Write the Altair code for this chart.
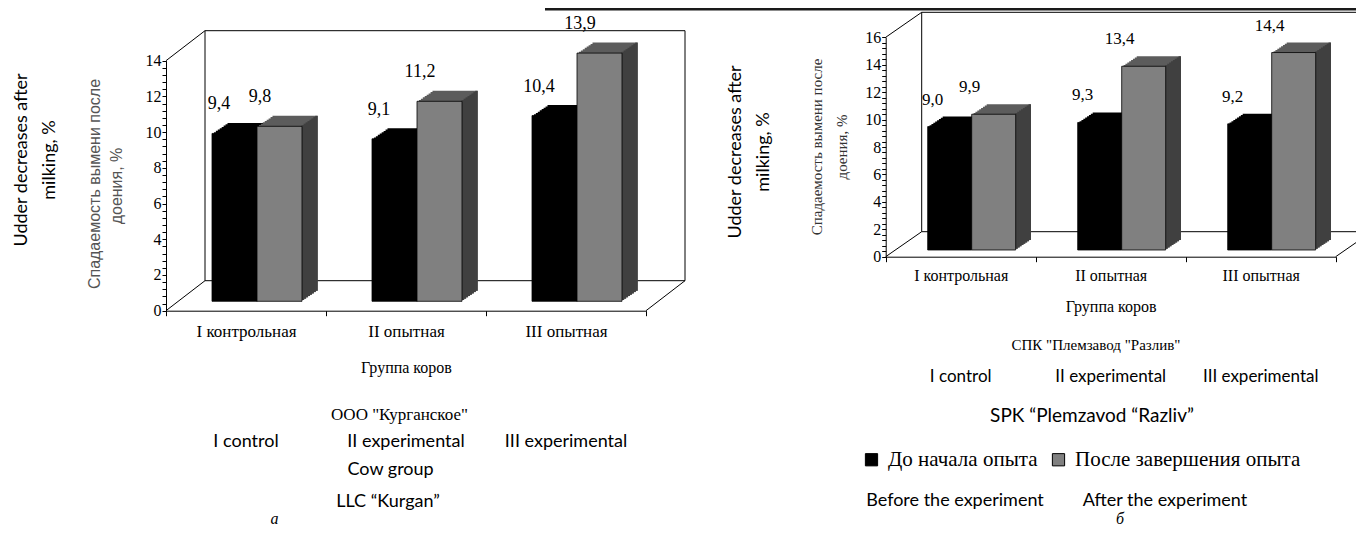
import altair as alt
import pandas as pd

# ---------------- data ----------------
groups = ["I контрольная", "II опытная", "III опытная"]
groups_en = ["I control", "II experimental", "III experimental"]
series = ["До начала опыта", "После завершения опыта"]
kurgan_before = [9.4, 9.1, 10.4]
kurgan_after = [9.8, 11.2, 13.9]
razliv_before = [9.0, 9.3, 9.2]
razliv_after = [9.9, 13.4, 14.4]
kurgan_ticks = [0, 2, 4, 6, 8, 10, 12, 14]
razliv_ticks = [0, 2, 4, 6, 8, 10, 12, 14, 16]

title_en = ["Udder decreases after", "milking, %"]
title_ru = ["Спадаемость вымени после", "доения, %"]
x_title_ru = "Группа коров"
farm_a_ru = 'ООО "Курганское"'
farm_a_en = "LLC \u201cKurgan\u201d"
cow_group_en = "Cow group"
farm_b_ru = 'СПК "Племзавод "Разлив"'
farm_b_en = "SPK \u201cPlemzavod \u201cRazliv\u201d"
legend_en = ["Before the experiment", "After the experiment"]
panel_letters = ["а", "б"]

W, H = 1348, 522
SERIF = "Liberation Serif"
SANS_EN = "Lato"

color_scale = alt.Scale(domain=series, range=["#000000", "#808080"])
legend = alt.Legend(title=None, orient="none", legendX=853, legendY=441,
                    direction="horizontal", symbolType="square", symbolSize=150,
                    symbolStrokeColor="black", symbolStrokeWidth=1,
                    labelFont=SERIF, labelFontSize=21, labelColor="black",
                    labelOffset=6, columnPadding=10, labelLimit=400)


def fmt(v):
    return f"{v:.1f}".replace(".", ",")


def one():
    return pd.DataFrame({"k": [0]})


def rule(x1, y1, x2, y2, width=1.0, color="black"):
    return alt.Chart(one()).mark_rule(color=color, strokeWidth=width).encode(
        x=alt.value(x1), y=alt.value(y1), x2=alt.value(x2), y2=alt.value(y2))


def text(s, x, y, size, font, angle=0, color="black", style="normal",
         baseline="middle"):
    return alt.Chart(pd.DataFrame({"t": [s]})).mark_text(
        font=font, fontSize=size, angle=angle, color=color, fontStyle=style,
        baseline=baseline, align="center").encode(
        x=alt.value(x), y=alt.value(y), text="t:N")


def panel(before, after, ticks, g):
    ymax = ticks[-1]
    df_b = pd.DataFrame({"group": groups, "series": series[0], "value": before,
                         "label": [fmt(v) for v in before]})
    df_a = pd.DataFrame({"group": groups, "series": series[1], "value": after,
                         "label": [fmt(v) for v in after]})
    df_en = pd.DataFrame({"group": groups, "en": groups_en})
    minor = [round(i * 0.4, 1) for i in range(int(round(ymax / 0.4)) + 1)]
    label_expr = ("indexof(" + str(ticks) +
                  ", datum.value) >= 0 ? format(datum.value, 'd') : ''")

    x = alt.X("group:N", sort=groups,
              scale=alt.Scale(domain=groups, range=[g["x0"], g["x1"]],
                              paddingInner=0, paddingOuter=0),
              axis=alt.Axis(orient="bottom", offset=g["y0"] - H, tickBand="extent",
                            labelAngle=0, labelFont=SERIF, labelFontSize=g["lab_fs"],
                            labelColor="black", labelPadding=g["lab_pad"],
                            tickSize=5, tickColor="black", domainColor="black",
                            title=x_title_ru, titleFont=SERIF,
                            titleFontSize=g["tit_fs"], titleFontWeight="normal",
                            titleColor="black", titlePadding=g["tit_pad"]))
    y = alt.Y("value:Q",
              scale=alt.Scale(domain=[0, ymax], range=[g["y0"], g["ytop"]],
                              nice=False, zero=True),
              axis=alt.Axis(orient="left", offset=-g["x0"], values=minor,
                            labelExpr=label_expr, labelOverlap=False,
                            labelFont=SERIF, labelFontSize=16, labelColor="black",
                            tickSize=4, tickColor="black", domainColor="black",
                            labelPadding=1, grid=False, title=None))

    bx, by = g["bdx"], g["bdy"]
    layers = []
    # back wall + depth edges
    layers.append(alt.Chart(one()).mark_rect(fill="white", stroke="black", strokeWidth=1).encode(
        x=alt.value(g["x0"] + bx), x2=alt.value(g["x1"] + bx),
        y=alt.value(g["ytop"] + by), y2=alt.value(g["y0"] + by)))
    layers.append(rule(g["x0"], g["ytop"], g["x0"] + bx, g["ytop"] + by))
    layers.append(rule(g["x0"], g["y0"], g["x0"] + bx, g["y0"] + by))
    layers.append(rule(g["x1"], g["y0"], g["x1"] + bx, g["y0"] + by))

    bw = g["bw"]
    yo = g["yoff"]
    steps = 8
    ddx, ddy = g["ddx"] / steps, g["ddy"] / steps
    # black bar depth
    for k in range(steps, 0, -1):
        layers.append(alt.Chart(df_b).mark_bar(
            width=bw, xOffset=g["xb"] + k * ddx, yOffset=yo + k * ddy,
            y2Offset=yo + k * ddy, color="#000000", strokeWidth=0).encode(x=x, y=y))
    # gray bar top face
    for k in range(steps, 0, -1):
        layers.append(alt.Chart(df_a).mark_bar(
            width=bw, xOffset=g["xa"] + k * ddx, yOffset=yo + k * ddy,
            y2Offset=yo + k * ddy, color="#5c5c5c", strokeWidth=0).encode(x=x, y=y))
    # gray bar side face
    for k in range(steps, 0, -1):
        layers.append(alt.Chart(df_a).mark_bar(
            width=ddx + 0.6, xOffset=g["xa"] + bw / 2 + (k - 0.5) * ddx, yOffset=yo + k * ddy,
            y2Offset=yo + k * ddy, color="#404040", strokeWidth=0).encode(x=x, y=y))
    # front faces
    layers.append(alt.Chart(df_b).mark_bar(
        width=bw, xOffset=g["xb"], yOffset=yo, y2Offset=yo, stroke="black",
        strokeWidth=0.8).encode(x=x, y=y, color=alt.Color("series:N", scale=color_scale, legend=legend)))
    layers.append(alt.Chart(df_a).mark_bar(
        width=bw, xOffset=g["xa"], yOffset=yo, y2Offset=yo, stroke="black",
        strokeWidth=0.8).encode(x=x, y=y, color=alt.Color("series:N", scale=color_scale, legend=legend)))
    # value labels
    layers.append(alt.Chart(df_b).mark_text(
        font=SERIF, fontSize=g["val_fs"], color="black", xOffset=g["lxb"],
        yOffset=yo + g["ly"]).encode(x=x, y=y, text="label:N"))
    layers.append(alt.Chart(df_a).mark_text(
        font=SERIF, fontSize=g["val_fs"], color="black", xOffset=g["lxa"],
        yOffset=yo + g["ly"]).encode(x=x, y=y, text="label:N"))
    # english group names
    layers.append(alt.Chart(df_en).mark_text(
        font=SANS_EN, fontSize=g["en_fs"], color="black").encode(
        x=x, y=alt.value(g["en_y"]), text="en:N"))
    return alt.layer(*layers)


left = panel(kurgan_before, kurgan_after, kurgan_ticks, dict(
    x0=158, x1=638, y0=302.7, ytop=52.7, bdx=39, bdy=-30,
    bw=45, xb=-11.5, xa=33.5, yoff=-9.4, ddx=15.5, ddy=-10.5,
    lxb=-27, lxa=14, ly=-29, val_fs=18, lab_fs=17, lab_pad=8,
    tit_fs=16, tit_pad=20, en_fs=18, en_y=433.7))

right = panel(razliv_before, razliv_after, razliv_ticks, dict(
    x0=877.7, x1=1327.7, y0=248.7, ytop=29.3, bdx=36, bdy=-25,
    bw=44, xb=-11, xa=33, yoff=-6.7, ddx=15, ddy=-10,
    lxb=-28, lxa=9, ly=-27, val_fs=17, lab_fs=16, lab_pad=6,
    tit_fs=16, tit_pad=15, en_fs=17, en_y=369))

annotations = [
    rule(537, 1, W, 1, width=3, color="#1a1a1a"),
    # left panel
    text(title_en[0], 14, 152, 18, SANS_EN, angle=270),
    text(title_en[1], 42, 152, 18, SANS_EN, angle=270),
    text(title_ru[0], 87, 176, 16, "Liberation Sans", angle=270, color="#555555"),
    text(title_ru[1], 108.7, 178, 16, "Liberation Sans", angle=270, color="#555555"),
    text(farm_a_ru, 391.5, 407, 17, SERIF),
    text(cow_group_en, 382.6, 462, 18, SANS_EN),
    text(farm_a_en, 380, 494, 18, SANS_EN),
    text(panel_letters[0], 266.5, 519, 16, SERIF, style="italic", baseline="bottom"),
    # right panel
    text(title_en[0], 728, 144, 18, SANS_EN, angle=270),
    text(title_en[1], 755.5, 144, 18, SANS_EN, angle=270),
    text(title_ru[0], 808.5, 139, 15, SERIF, angle=270, color="#333333"),
    text(title_ru[1], 834, 139, 15, SERIF, angle=270, color="#333333"),
    text(farm_b_ru, 1088, 337, 15, SERIF),
    text(farm_b_en, 1084, 408, 19, SANS_EN),
    text(legend_en[0], 947, 493, 18, SANS_EN),
    text(legend_en[1], 1157, 493, 18, SANS_EN),
    text(panel_letters[1], 1112, 519, 16, SERIF, style="italic", baseline="bottom"),
]

chart = alt.layer(left, right, *annotations).resolve_scale(
    x="independent", y="independent"
).properties(
    width=W, height=H, padding=0,
    autosize=alt.AutoSizeParams(type="none"),
).configure_view(stroke=None)

chart.save("out.html", embed_options={"renderer": "svg", "actions": False})
